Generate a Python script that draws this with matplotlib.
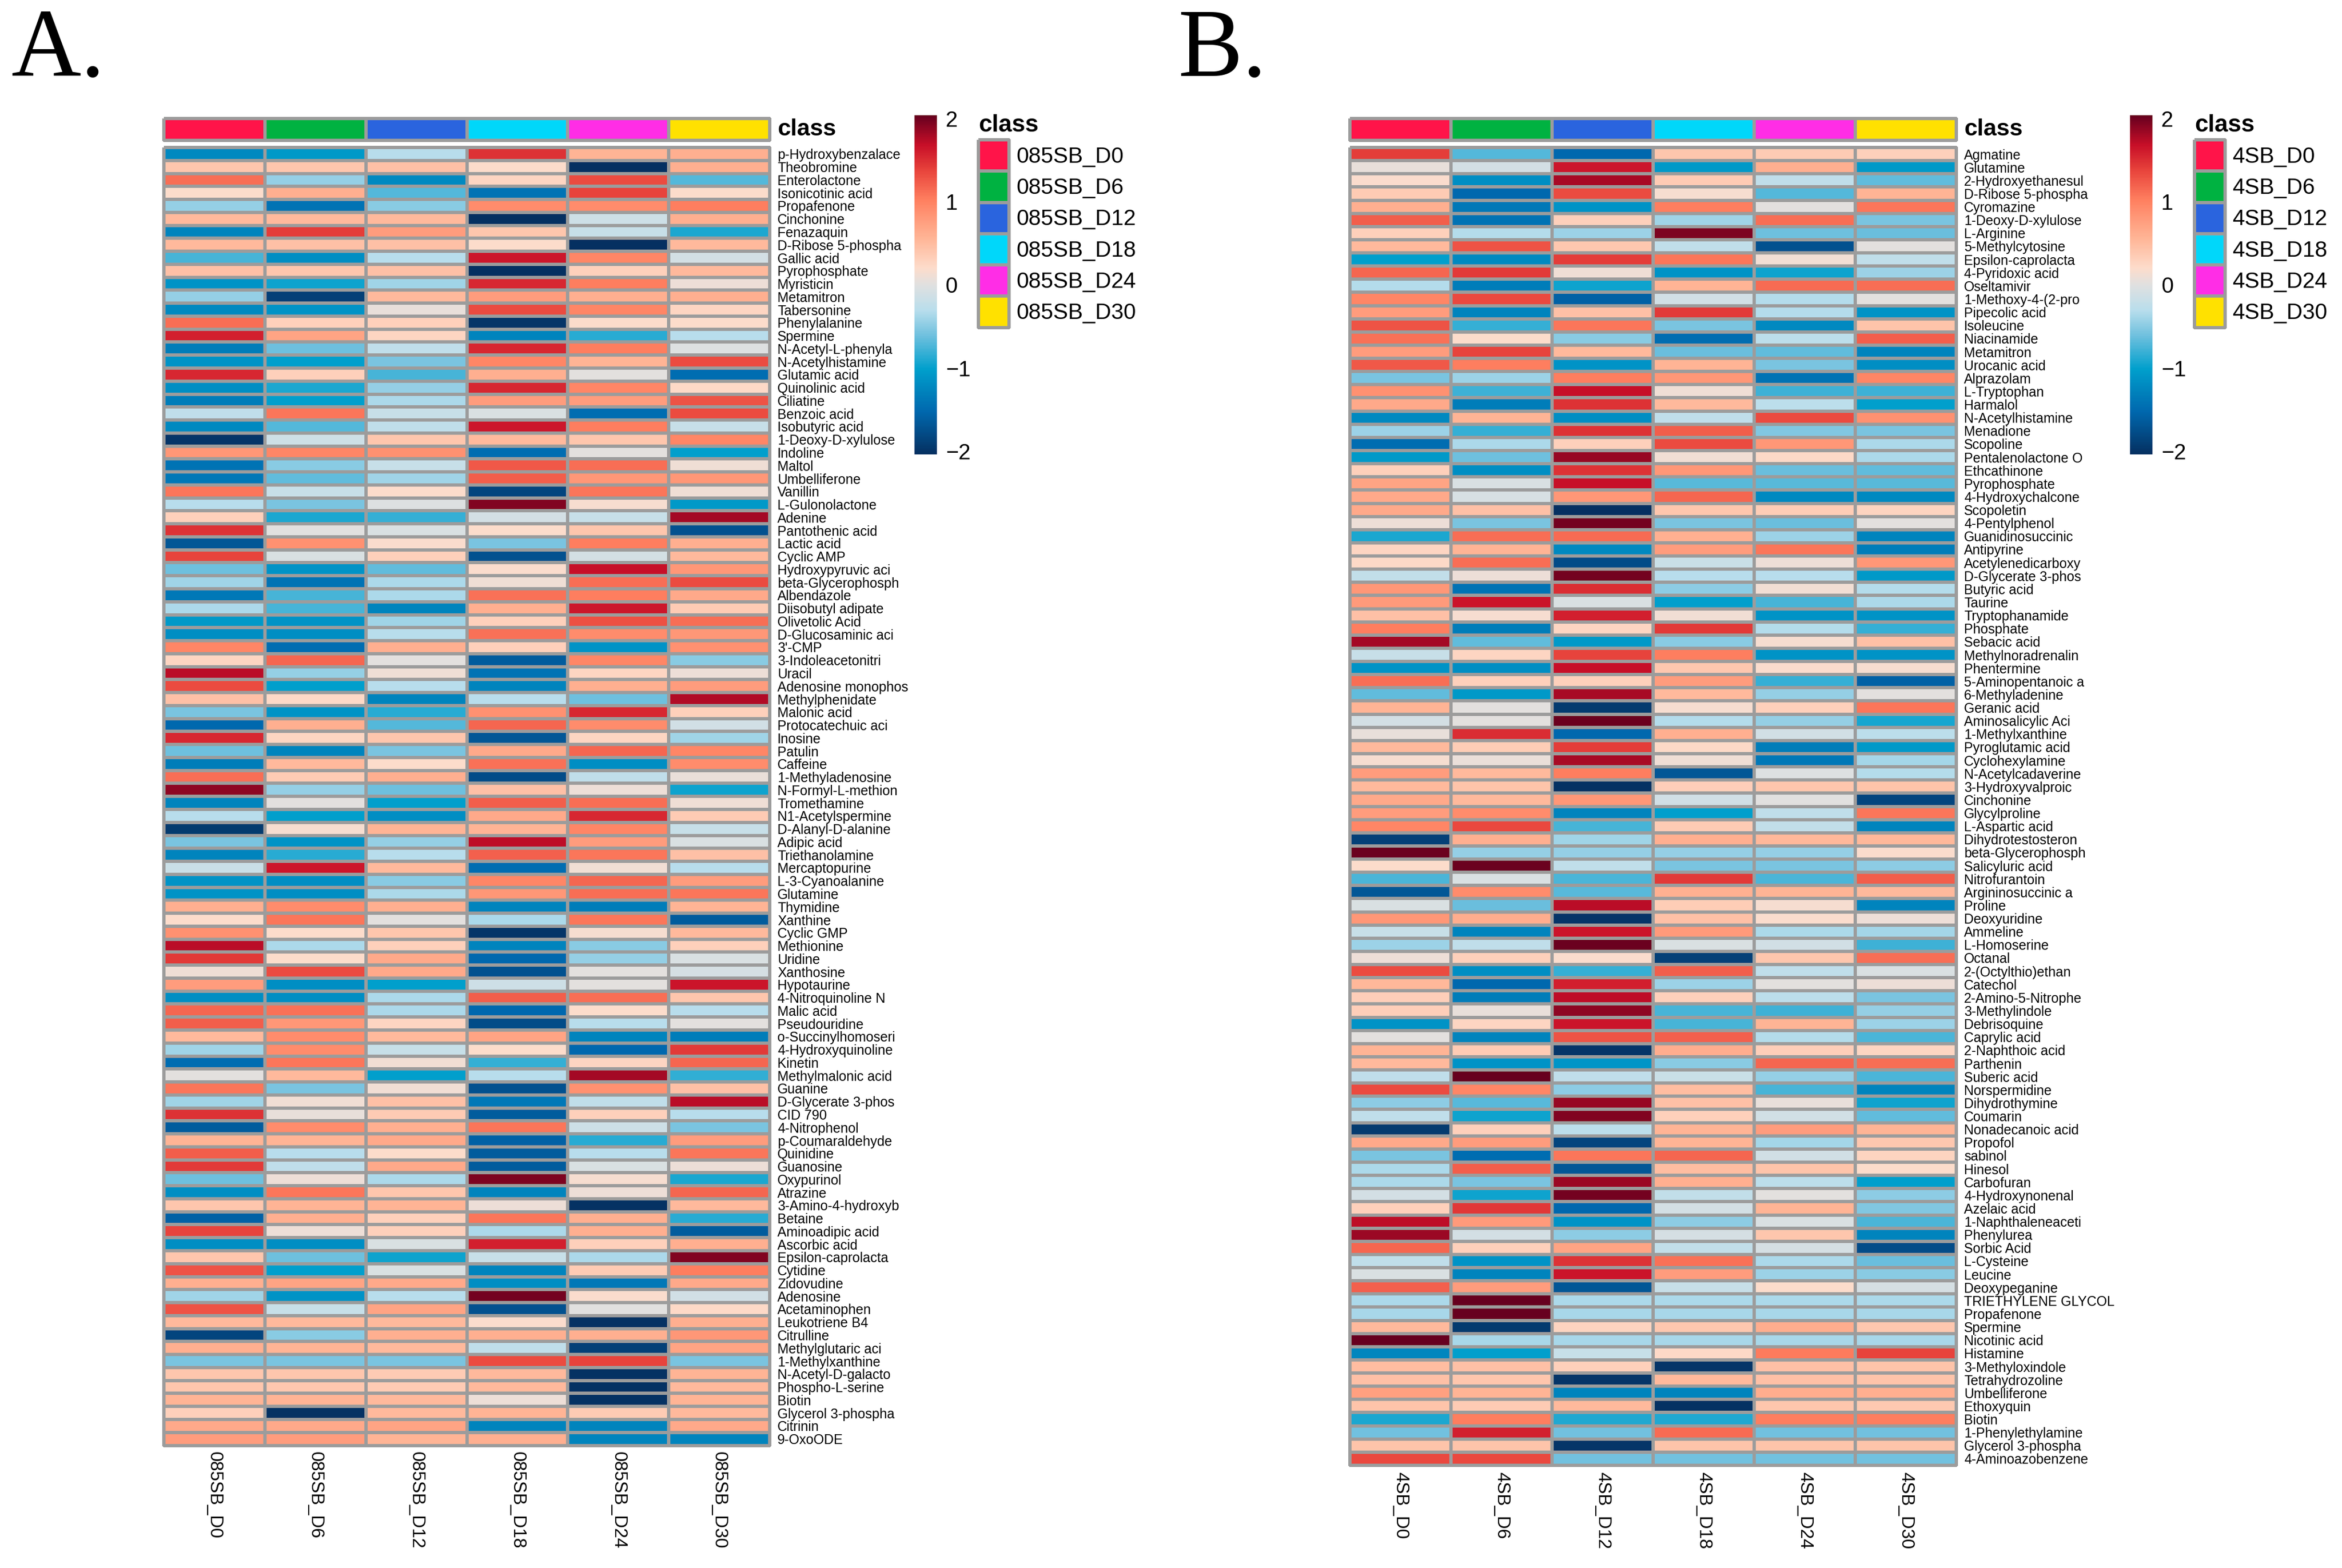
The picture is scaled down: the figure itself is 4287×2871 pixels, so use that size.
# Two metabolite heatmaps with class annotation, colour bar and legend

from matplotlib import pyplot as plt
from matplotlib.colors import LinearSegmentedColormap, ListedColormap
import numpy as np

plt.rcParams['font.family'] = ['Liberation Sans', 'DejaVu Sans']

class_colors = ['#ff1449', '#00b241', '#2a64de', '#00d7fa', '#ff2de6', '#ffe100']
days = ['D0', 'D6', 'D12', 'D18', 'D24', 'D30']
groups_a = ['085SB_' + d for d in days]
groups_b = ['4SB_' + d for d in days]

names_a = [
    'p-Hydroxybenzalace', 'Theobromine', 'Enterolactone', 'Isonicotinic acid', 'Propafenone',
    'Cinchonine', 'Fenazaquin', 'D-Ribose 5-phospha', 'Gallic acid', 'Pyrophosphate',
    'Myristicin', 'Metamitron', 'Tabersonine', 'Phenylalanine', 'Spermine',
    'N-Acetyl-L-phenyla', 'N-Acetylhistamine', 'Glutamic acid', 'Quinolinic acid', 'Ciliatine',
    'Benzoic acid', 'Isobutyric acid', '1-Deoxy-D-xylulose', 'Indoline', 'Maltol',
    'Umbelliferone', 'Vanillin', 'L-Gulonolactone', 'Adenine', 'Pantothenic acid',
    'Lactic acid', 'Cyclic AMP', 'Hydroxypyruvic aci', 'beta-Glycerophosph', 'Albendazole',
    'Diisobutyl adipate', 'Olivetolic Acid', 'D-Glucosaminic aci', "3'-CMP", '3-Indoleacetonitri',
    'Uracil', 'Adenosine monophos', 'Methylphenidate', 'Malonic acid', 'Protocatechuic aci',
    'Inosine', 'Patulin', 'Caffeine', '1-Methyladenosine', 'N-Formyl-L-methion',
    'Tromethamine', 'N1-Acetylspermine', 'D-Alanyl-D-alanine', 'Adipic acid', 'Triethanolamine',
    'Mercaptopurine', 'L-3-Cyanoalanine', 'Glutamine', 'Thymidine', 'Xanthine',
    'Cyclic GMP', 'Methionine', 'Uridine', 'Xanthosine', 'Hypotaurine',
    '4-Nitroquinoline N', 'Malic acid', 'Pseudouridine', 'o-Succinylhomoseri', '4-Hydroxyquinoline',
    'Kinetin', 'Methylmalonic acid', 'Guanine', 'D-Glycerate 3-phos', 'CID 790',
    '4-Nitrophenol', 'p-Coumaraldehyde', 'Quinidine', 'Guanosine', 'Oxypurinol',
    'Atrazine', '3-Amino-4-hydroxyb', 'Betaine', 'Aminoadipic acid', 'Ascorbic acid',
    'Epsilon-caprolacta', 'Cytidine', 'Zidovudine', 'Adenosine', 'Acetaminophen',
    'Leukotriene B4', 'Citrulline', 'Methylglutaric aci', '1-Methylxanthine', 'N-Acetyl-D-galacto',
    'Phospho-L-serine', 'Biotin', 'Glycerol 3-phospha', 'Citrinin', '9-OxoODE',
]

values_a = [
    [-1.2, -1.05, -.3, 1.45, .55, .6],
    [.4, .4, .45, .2, -2, .6],
    [1.1, -.45, -1.2, .25, 1.3, -.7],
    [.2, .6, -.7, -1.4, 1.35, .2],
    [-.45, -1.4, -.5, .9, .9, 1.0],
    [.5, .5, .5, -2, -.15, .6],
    [-1.25, 1.38, .75, .4, -.2, -.9],
    [.5, .45, .45, .2, -2, .5],
    [-.75, -1.15, -.3, 1.6, .95, -.1],
    [.45, .4, .45, -2, .3, .5],
    [-1.1, -.95, -.4, 1.5, 1.0, .08],
    [-.45, -1.85, .5, .75, .6, .6],
    [-1.2, -1.1, .05, 1.3, .95, .25],
    [1.1, .3, .3, -1.95, .2, .2],
    [1.55, .7, .25, -1.25, -.85, -.3],
    [-1.3, -.6, -.25, 1.5, 1.0, -.02],
    [-1.1, -1.0, -.55, .95, .55, 1.3],
    [1.5, .3, -.75, .6, .03, -1.45],
    [-1.15, -.9, -.45, 1.5, .95, .22],
    [-1.3, -1.0, -.35, .75, .75, 1.25],
    [-.25, 1.05, -.2, -.05, -1.45, 1.3],
    [-1.2, -.7, -.25, 1.6, 1.0, -.2],
    [-1.95, -.15, .4, .5, .4, .95],
    [.8, .95, .85, -1.45, .03, -1.0],
    [-1.4, -.5, -.2, 1.22, 1.1, .1],
    [-1.35, -.65, -.4, 1.2, .8, .8],
    [1.05, -.2, .2, -1.8, 1.05, .1],
    [-.3, -.55, -.02, 1.9, .15, -1.05],
    [.3, -.9, -.8, -.1, -.2, 1.78],
    [1.45, 0, -.05, .2, .4, -1.7],
    [-1.65, .85, .18, -.55, 1.0, .6],
    [1.35, -.05, .3, -1.7, -.1, .5],
    [-.6, -1.1, -.65, .18, 1.65, .8],
    [-.4, -1.4, -.35, .1, 1.1, 1.3],
    [-1.35, -.75, -.35, 1.08, 1.0, .65],
    [-.35, -.75, -1.25, .6, 1.6, .35],
    [-1.05, -1.1, -.4, .3, 1.28, 1.1],
    [-1.15, -1.15, -.3, 1.08, .9, .8],
    [.95, -1.45, .6, .3, -1.1, .85],
    [.25, 1.15, .03, -1.6, .95, -.5],
    [1.7, -.45, .1, -1.4, .25, .08],
    [1.3, -1.0, -.3, -1.25, .6, .75],
    [.45, .22, -1.25, -.3, -.6, 1.72],
    [-.55, -1.1, -.85, .85, 1.5, .3],
    [-1.5, .6, -.7, 1.15, .9, -.12],
    [1.5, .25, .4, -1.65, .25, -.4],
    [-.6, -1.25, -.55, .65, 1.15, .95],
    [-1.3, .5, .2, 1.08, -1.15, .9],
    [1.1, .35, .6, -1.75, -.25, .07],
    [1.85, -.45, -.6, .45, .08, -.95],
    [-1.25, .03, -1.0, 1.2, 1.1, .1],
    [-.3, -1.0, -1.15, .65, 1.5, .35],
    [-1.9, .15, .55, .55, .95, -.2],
    [-.55, -1.1, -.45, 1.68, .75, -.05],
    [-1.25, -.85, -.3, 1.18, 1.05, .45],
    [-.18, 1.6, .5, -1.45, .12, -.3],
    [-1.1, -1.15, -.5, .95, 1.15, .75],
    [-1.1, -1.15, -.35, .8, 1.1, 1.05],
    [.6, .9, .6, -1.25, -1.3, .55],
    [.2, 1.05, .02, -.35, 1.05, -1.6],
    [.85, .2, .4, -1.95, .15, .5],
    [1.7, -.35, .3, -1.25, -.5, .3],
    [1.4, .2, .65, -1.5, -.45, -.05],
    [.1, 1.3, .65, -1.7, .02, -.08],
    [.75, -1.15, -1.0, -.15, .02, 1.62],
    [-1.15, -1.15, -.35, 1.2, 1.1, .4],
    [1.15, 1.08, -.35, -1.5, .2, -.3],
    [1.2, .8, .25, -1.75, -.3, .02],
    [.5, .9, .5, .7, -1.25, -1.3],
    [-.4, .9, -.2, .2, -1.5, 1.4],
    [-1.45, 1.05, .12, -.8, .25, 1.15],
    [.02, .5, -1.0, -.3, 1.78, -.82],
    [1.05, -.55, .12, -1.7, .85, .45],
    [-.4, .12, .45, -1.35, -.25, 1.7],
    [1.45, .05, .35, -1.6, .3, -.3],
    [-1.6, .9, .6, 1.05, -.15, -.55],
    [.55, .55, .65, -1.55, -.85, .75],
    [1.2, -.3, .2, -1.6, -.3, 1.05],
    [1.4, -.25, .65, -1.6, -.05, .08],
    [-.6, .08, -.35, 1.92, .15, -.9],
    [-1.15, 1.05, .4, -1.25, .08, 1.15],
    [.4, .55, .55, .08, -1.98, .5],
    [-1.55, .6, .3, 1.05, .6, -.85],
    [1.35, .08, .3, -.35, .6, -1.6],
    [-1.15, -1.15, -.05, 1.55, .3, .6],
    [.4, -.6, -.95, -.2, -.35, 1.9],
    [1.25, -1.0, -.05, -1.25, .35, 1.0],
    [.6, .7, .65, -1.15, -1.35, .65],
    [-.4, -1.1, -.3, 1.95, .18, -.12],
    [1.25, -.2, .7, -1.7, .0, .22],
    [.5, .5, .5, .18, -1.98, .6],
    [-1.8, -.5, .6, .6, .6, .8],
    [.6, .55, .5, -.25, -1.85, .7],
    [-.55, -.55, -.55, 1.3, 1.35, -.55],
    [.4, .4, .35, .5, -1.98, .55],
    [.4, .38, .35, .5, -1.98, .5],
    [.55, .55, .5, .08, -1.98, .55],
    [.3, -1.98, .5, .55, .35, .5],
    [.65, .65, .7, -1.25, -1.25, .65],
    [.75, .75, .55, .6, -1.25, -1.25],
]

names_b = [
    'Agmatine', 'Glutamine', '2-Hydroxyethanesul', 'D-Ribose 5-phospha', 'Cyromazine',
    '1-Deoxy-D-xylulose', 'L-Arginine', '5-Methylcytosine', 'Epsilon-caprolacta', '4-Pyridoxic acid',
    'Oseltamivir', '1-Methoxy-4-(2-pro', 'Pipecolic acid', 'Isoleucine', 'Niacinamide',
    'Metamitron', 'Urocanic acid', 'Alprazolam', 'L-Tryptophan', 'Harmalol',
    'N-Acetylhistamine', 'Menadione', 'Scopoline', 'Pentalenolactone O', 'Ethcathinone',
    'Pyrophosphate', '4-Hydroxychalcone', 'Scopoletin', '4-Pentylphenol', 'Guanidinosuccinic',
    'Antipyrine', 'Acetylenedicarboxy', 'D-Glycerate 3-phos', 'Butyric acid', 'Taurine',
    'Tryptophanamide', 'Phosphate', 'Sebacic acid', 'Methylnoradrenalin', 'Phentermine',
    '5-Aminopentanoic a', '6-Methyladenine', 'Geranic acid', 'Aminosalicylic Aci', '1-Methylxanthine',
    'Pyroglutamic acid', 'Cyclohexylamine', 'N-Acetylcadaverine', '3-Hydroxyvalproic', 'Cinchonine',
    'Glycylproline', 'L-Aspartic acid', 'Dihydrotestosteron', 'beta-Glycerophosph', 'Salicyluric acid',
    'Nitrofurantoin', 'Argininosuccinic a', 'Proline', 'Deoxyuridine', 'Ammeline',
    'L-Homoserine', 'Octanal', '2-(Octylthio)ethan', 'Catechol', '2-Amino-5-Nitrophe',
    '3-Methylindole', 'Debrisoquine', 'Caprylic acid', '2-Naphthoic acid', 'Parthenin',
    'Suberic acid', 'Norspermidine', 'Dihydrothymine', 'Coumarin', 'Nonadecanoic acid',
    'Propofol', 'sabinol', 'Hinesol', 'Carbofuran', '4-Hydroxynonenal',
    'Azelaic acid', '1-Naphthaleneaceti', 'Phenylurea', 'Sorbic Acid', 'L-Cysteine',
    'Leucine', 'Deoxypeganine', 'TRIETHYLENE GLYCOL', 'Propafenone', 'Spermine',
    'Nicotinic acid', 'Histamine', '3-Methyloxindole', 'Tetrahydrozoline', 'Umbelliferone',
    'Ethoxyquin', 'Biotin', '1-Phenylethylamine', 'Glycerol 3-phospha', '4-Aminoazobenzene',
]

values_b = [
    [1.38, -.7, -1.5, .4, .35, .3],
    [.05, -.1, 1.6, -1.05, .6, -1.05],
    [.18, -1.15, 1.75, .35, -.25, -.65],
    [.35, -1.5, 1.3, .15, -.7, .55],
    [.6, -1.35, -1.1, 1.0, .03, 1.05],
    [1.2, -1.4, .3, -.4, 1.1, -.55],
    [.3, -.32, -.42, 1.92, -.6, -.62],
    [.5, 1.25, .38, -.25, -1.7, .02],
    [-1.0, -1.2, 1.38, 1.05, .12, -.25],
    [1.15, 1.4, .1, -1.1, -.95, -.42],
    [-.32, -1.3, -.95, .55, 1.12, 1.1],
    [.95, 1.32, -1.55, -.12, -.32, .03],
    [.75, -1.25, .45, 1.4, -.32, -1.1],
    [1.25, -.8, 1.05, -.55, -1.2, .42],
    [1.08, .2, -.5, -1.45, -.28, 1.2],
    [.75, 1.35, .5, -.62, -.65, -1.25],
    [1.22, 1.0, -1.1, .55, -.55, -1.15],
    [-.55, -.42, 1.0, .8, -1.4, .95],
    [.85, -.78, 1.65, .1, -.78, -.78],
    [.65, -1.3, 1.45, .5, -.28, -1.0],
    [-1.2, .55, -1.15, -.25, 1.3, .85],
    [-.42, -.8, 1.45, 1.2, -.52, -.55],
    [-1.45, -.35, .3, 1.3, .8, -.35],
    [-1.05, -.6, 1.82, .12, .22, -.35],
    [.3, -1.15, 1.45, .8, -.62, -.65],
    [.7, -.05, 1.65, -.68, -.68, -.68],
    [.65, -.07, .8, 1.15, -1.2, -1.2],
    [.65, .45, -2, .4, .33, .28],
    [.08, -.55, 1.95, -.55, -.62, .02],
    [-.9, 1.1, 1.12, .58, -.42, -1.25],
    [.25, .55, -1.2, .75, 1.05, -1.3],
    [.22, 1.1, -1.75, -.18, .08, .8],
    [-.22, .08, 1.95, -.3, -.3, -1.05],
    [.8, -1.4, 1.48, -.48, .12, -.32],
    [.78, 1.62, -.05, -1.0, -.75, -.35],
    [.45, .15, 1.55, .12, -1.1, -1.1],
    [1.0, -1.3, .25, 1.4, -.32, -.8],
    [1.78, -.65, -1.05, -.5, .15, .45],
    [-.2, .25, 1.35, 1.0, -1.1, -1.1],
    [-1.1, -1.15, 1.65, .38, .18, .15],
    [1.1, .3, .3, .75, -.8, -1.55],
    [-.65, -1.05, 1.75, .5, -.45, .03],
    [.55, .02, -1.9, .15, .3, 1.05],
    [-.1, .03, 1.98, -.32, -.45, -.92],
    [.05, 1.48, -1.5, .6, -.12, -.28],
    [.5, .33, 1.38, .22, -1.3, -1.05],
    [.15, .07, 1.75, .1, -1.35, -.38],
    [.75, .5, 1.0, -1.65, -.03, -.32],
    [.5, .42, -1.98, .32, .4, .42],
    [.65, .5, .8, -.12, .0, -1.8],
    [.75, .9, -1.25, -1.0, -.25, 1.05],
    [.95, 1.32, -.75, .35, -.22, -1.25],
    [-1.85, .6, -.4, .6, .52, .52],
    [1.98, -.45, -.45, -.45, -.45, .18],
    [.2, 1.98, -.25, -.55, -.55, -.48],
    [-.72, -.05, -.72, 1.4, -.72, 1.2],
    [-1.65, .9, -.68, .58, .55, .5],
    [-.05, -.62, 1.7, .33, .15, -1.25],
    [.8, .62, -1.95, .45, .18, .08],
    [-.2, -1.25, 1.62, .78, -.35, -.38],
    [-.42, -.25, 1.97, -.05, -.12, -.78],
    [.08, .3, .18, -1.85, .4, 1.1],
    [1.3, -1.15, -.8, 1.2, -.25, -.05],
    [.52, -1.5, 1.55, -.42, .03, .08],
    [.32, -1.3, 1.68, .3, -.28, -.55],
    [.32, .05, 1.85, -.75, -.78, -.45],
    [-1.1, .25, 1.62, -.75, .55, -.42],
    [.03, -1.25, 1.25, 1.18, -.32, -.72],
    [.55, .35, -1.95, .62, .32, .25],
    [.5, -1.1, -1.08, -.5, 1.15, 1.1],
    [-.25, 2.0, -.25, -.18, -.45, -.72],
    [1.3, .95, -.48, .48, -.75, -1.25],
    [-.48, -.68, 1.82, .45, .05, -.95],
    [-.25, -.95, 1.9, .3, -.12, -.65],
    [-1.9, .3, -.28, .55, .75, .55],
    [.65, .75, -1.8, .55, -.38, .38],
    [-.55, -1.45, 1.05, 1.15, -.12, .28],
    [-.35, 1.2, -1.65, .48, .42, .2],
    [-.35, -.55, 1.8, .6, -.28, -1.0],
    [-.1, -.95, 1.95, -.22, .03, -.48],
    [.3, 1.42, -1.5, -.1, .55, -.52],
    [1.68, .78, -1.1, -.48, -.05, -.72],
    [1.8, -.1, -.48, -.08, .4, -1.25],
    [1.15, .3, .7, -.22, -.08, -1.75],
    [-.25, -1.1, 1.45, 1.08, -.35, -.62],
    [-.05, -1.25, 1.62, .75, -.42, -.5],
    [1.18, .75, -1.65, -.2, .2, -.08],
    [-.35, 2.0, -.35, -.35, -.35, -.35],
    [-.37, 2.0, -.37, -.37, -.37, -.37],
    [.5, -1.9, .28, .38, .62, .38],
    [2.0, -.37, -.37, -.37, -.37, -.37],
    [-1.22, -1.0, -.2, .22, 1.02, 1.35],
    [.48, .45, .3, -1.95, .45, .42],
    [.45, .4, -1.95, .5, .45, .42],
    [.72, .55, -1.25, -1.25, .62, .6],
    [.42, .35, .5, -1.98, .4, .36],
    [-.9, 1.0, -.88, -.88, 1.0, 1.0],
    [-.58, 1.55, -.58, 1.12, -.58, -.58],
    [.42, .42, -1.95, .42, .42, .42],
    [1.32, 1.32, -.58, -.58, -.58, -.58],
]

# colour bar, value on the -2..2 scale
cmap_stops = [(-2, '#053061'), (-1.5, '#0068ae'), (-1, '#009fcc'), (-.6, '#6fc0de'),
              (-.3, '#b9deec'), (0, '#e0e0e0'), (.2, '#fddccb'), (.55, '#ffb596'),
              (1, '#ff8060'), (1.35, '#e8443c'), (1.65, '#c80f28'), (2, '#67001f')]
heat_cmap = LinearSegmentedColormap.from_list(
    'heat', [((v + 2) / 4, c) for v, c in cmap_stops], N=256)

W, H = 4287, 2871
DPI = 100
PX = 72 / DPI  # one pixel in points
GRID = '#9c9c9c'
GRID_LW = 4.3 * PX


def ax_px(fig, x0, y0, x1, y1):
    return fig.add_axes([x0 / W, 1 - y1 / H, (x1 - x0) / W, (y1 - y0) / H])


def grid_mesh(ax, data, **kwargs):
    mesh = ax.pcolormesh(data, edgecolors=GRID, linewidth=GRID_LW, **kwargs)
    mesh.set_clip_on(False)
    ax.invert_yaxis()
    for spine in ax.spines.values():
        spine.set_visible(False)
    ax.set_xticks([])
    ax.set_yticks([])
    return mesh


def draw_panel(fig, names, values, groups, left, right, bottom, bar_x, legend_x):
    # annotation strip
    ax = ax_px(fig, left, 216.5, right, 257)
    grid_mesh(ax, [list(range(6))], cmap=ListedColormap(class_colors), vmin=0, vmax=5)
    ax.text(1 + 14 / (right - left), 0.5, 'class', transform=ax.transAxes, fontsize=43 * PX,
            fontweight='bold', va='center', ha='left')

    # heatmap body
    ax = ax_px(fig, left, 270, right, bottom)
    mesh = grid_mesh(ax, np.array(values), cmap=heat_cmap, vmin=-2, vmax=2)
    ax.yaxis.tick_right()
    ax.set_yticks(np.arange(len(names)) + 0.5, names, fontsize=24.8 * PX)
    ax.set_xticks(np.arange(6) + 0.5, groups, fontsize=33 * PX, rotation=270)
    ax.tick_params(axis='both', length=0)
    ax.tick_params(axis='y', pad=14 * PX)
    ax.tick_params(axis='x', pad=12 * PX)

    # colour bar, labels sit a little inside the ends of the bar
    cax = ax_px(fig, bar_x, 211, bar_x + 41, 832)
    cbar = fig.colorbar(mesh, cax=cax)
    cbar.outline.set_visible(False)
    cbar.set_ticks([-1.96, -.98, 0, .98, 1.96], labels=['\u22122', '\u22121', '0', '1', '2'])
    cbar.ax.tick_params(length=0, labelsize=40 * PX, pad=16 * PX)

    # legend
    ax = ax_px(fig, legend_x + 2, 256, legend_x + 58, 599.5)
    grid_mesh(ax, [[i] for i in range(6)], cmap=ListedColormap(class_colors), vmin=0, vmax=5)
    for i, group in enumerate(groups):
        ax.text(1 + 13 / 56, i + 0.54, group, transform=ax.get_yaxis_transform(),
                fontsize=40.6 * PX, va='center', ha='left')
    ax.text(0, -0.47, 'class', transform=ax.get_yaxis_transform(), fontsize=44 * PX,
            fontweight='bold', va='center', ha='left')


fig = plt.figure(figsize=(W / DPI, H / DPI), dpi=DPI, facecolor='white')

draw_panel(fig, names_a, values_a, groups_a, 300, 1409, 2646.5, 1674, 1789)
draw_panel(fig, names_b, values_b, groups_b, 2471, 3581, 2683, 3899, 4015)

fig.text(20 / W, 1 - 139 / H, 'A.', family='Liberation Serif', fontsize=177 * PX, va='baseline')
fig.text(2157 / W, 1 - 139 / H, 'B.', family='Liberation Serif', fontsize=177 * PX, va='baseline')

fig.savefig('out.png', dpi=DPI)
